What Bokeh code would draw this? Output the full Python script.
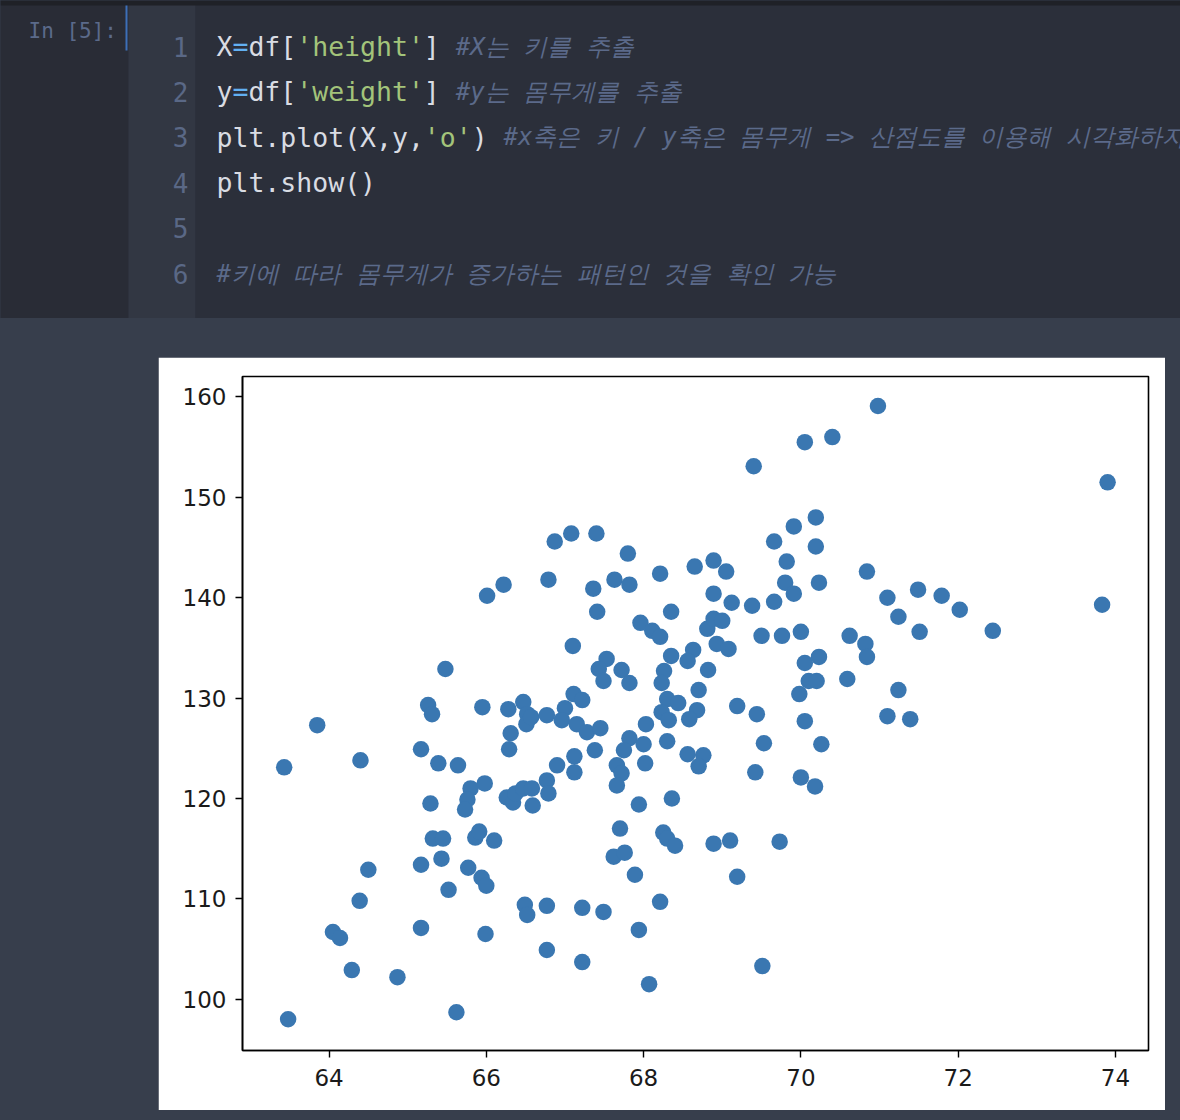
from bokeh.plotting import figure
from bokeh.models import Range1d, FixedTicker, ColumnDataSource
from bokeh.layouts import column
from bokeh.embed import file_html
from bokeh.resources import INLINE
from bokeh.core.properties import value

# ---------------- data (height in inches, weight in lb) ----------------
height = [63.43, 63.48, 63.85, 64.05, 64.14, 64.29, 64.39, 64.40, 64.50, 64.87,
          65.17, 65.17, 65.17, 65.26, 65.31, 65.29, 65.32, 65.45, 65.39, 65.43,
          65.48, 65.52, 65.62, 65.64, 65.77, 65.86, 65.91, 65.94, 66.00, 65.99,
          66.10, 65.80, 65.76, 65.73, 65.95, 65.98, 66.01, 66.22, 66.28, 66.31,
          66.29, 66.47, 66.52, 66.51, 66.57, 66.26, 66.34, 66.37, 66.47, 66.58,
          66.59, 66.77, 66.77, 66.79, 66.49, 66.52, 66.77, 66.77, 66.79, 66.87,
          67.08, 67.40, 67.80, 69.40, 70.05, 70.40, 70.98, 70.19, 69.91, 69.66,
          70.19, 69.82, 67.36, 67.63, 67.82, 68.21, 68.65, 68.89, 69.05, 68.89,
          69.12, 69.38, 69.66, 69.80, 69.91, 70.23, 67.41, 68.35, 70.84, 73.90,
          71.10, 71.49, 71.79, 72.02, 73.83, 71.24, 71.51, 72.44, 70.62, 70.82,
          70.84, 70.59, 71.24, 71.10, 71.39, 67.96, 68.11, 68.21, 68.81, 68.89,
          69.00, 68.93, 69.08, 69.50, 69.76, 70.00, 67.10, 67.53, 67.43, 67.49,
          67.72, 67.82, 68.35, 68.63, 68.56, 68.26, 68.23, 68.82, 68.70, 70.05,
          70.23, 70.10, 70.20, 69.98, 67.11, 67.22, 67.00, 66.96, 67.15, 67.28,
          67.45, 68.30, 68.44, 68.23, 68.32, 68.68, 68.58, 68.03, 69.19, 69.44,
          70.05, 67.38, 67.82, 67.75, 68.00, 68.02, 68.30, 68.56, 68.76, 68.70,
          69.53, 70.26, 67.12, 67.12, 66.90, 67.66, 67.72, 67.66, 69.42, 70.00,
          70.18, 68.36, 67.94, 67.70, 68.25, 68.30, 68.40, 68.89, 69.10, 69.73,
          67.62, 67.76, 67.89, 69.19, 67.22, 67.49, 68.21, 67.94, 67.22, 68.07,
          69.51]
weight = [123.1, 98.0, 127.3, 106.7, 106.1, 102.9, 109.8, 123.8, 112.9, 102.2,
          124.9, 113.4, 107.1, 129.3, 128.4, 119.5, 116.0, 116.0, 123.5, 114.0,
          132.9, 110.9, 98.7, 123.3, 113.1, 116.1, 116.7, 112.1, 111.3, 106.5,
          115.8, 121.0, 119.9, 118.9, 129.1, 121.5, 140.2, 141.3, 128.9, 126.5,
          124.9, 129.6, 128.4, 127.4, 128.1, 120.1, 119.6, 120.5, 121.0, 121.0,
          119.3, 128.3, 121.8, 120.5, 109.4, 108.4, 109.3, 104.9, 141.8, 145.6,
          146.4, 146.4, 144.4, 153.1, 155.5, 156.0, 159.1, 148.0, 147.1, 145.6,
          145.1, 143.6, 140.9, 141.8, 141.3, 142.4, 143.1, 143.7, 142.6, 140.4,
          139.5, 139.2, 139.6, 141.5, 140.4, 141.5, 138.6, 138.6, 142.6, 151.5,
          140.0, 140.8, 140.2, 138.8, 139.3, 138.1, 136.6, 136.7, 136.2, 135.4,
          134.1, 131.9, 130.8, 128.2, 127.9, 137.5, 136.7, 136.1, 136.9, 137.9,
          137.7, 135.4, 134.9, 136.2, 136.2, 136.6, 135.2, 133.9, 132.9, 131.7,
          132.8, 131.5, 134.2, 134.8, 133.7, 132.7, 131.5, 132.8, 130.8, 133.5,
          134.1, 131.7, 131.7, 130.4, 130.4, 129.8, 129.0, 127.8, 127.4, 126.6,
          127.0, 129.9, 129.5, 128.6, 127.8, 128.8, 127.9, 127.4, 129.2, 128.4,
          127.7, 124.8, 126.0, 124.8, 125.4, 123.5, 125.7, 124.4, 124.3, 123.2,
          125.5, 125.4, 124.2, 122.6, 123.3, 123.3, 122.5, 121.3, 122.6, 122.1,
          121.2, 120.0, 119.4, 117.0, 116.6, 116.0, 115.3, 115.5, 115.8, 115.7,
          114.2, 114.6, 112.4, 112.2, 109.1, 108.7, 109.7, 106.9, 103.7, 101.5,
          103.3]

x_ticks = [64, 66, 68, 70, 72, 74]
y_ticks = [100, 110, 120, 130, 140, 150, 160]

# ---------------- code cell text ----------------
code_lines = [
    [("X", "plain"), ("=", "op"), ("df[", "plain"), ("'height'", "str"), ("] ", "plain"),
     ("#X는 키를 추출", "comment")],
    [("y", "plain"), ("=", "op"), ("df[", "plain"), ("'weight'", "str"), ("] ", "plain"),
     ("#y는 몸무게를 추출", "comment")],
    [("plt.plot(X,y,", "plain"), ("'o'", "str"), (") ", "plain"),
     ("#x축은 키 / y축은 몸무게 => 산점도를 이용해 시각화하자", "comment")],
    [("plt.show()", "plain")],
    [],
    [("#키에 따라 몸무게가 증가하는 패턴인 것을 확인 가능", "comment")],
]
prompt_label = "In [5]:"

colors = {"plain": "#d9dce3", "op": "#62b0f2", "str": "#a3c47a", "comment": "#5b6a8a"}

W = 1180
code_h = 318

# ---------------- code cell figure ----------------
cf = figure(width=W, height=code_h, output_backend="svg", toolbar_location=None,
            x_axis_location=None, y_axis_location=None,
            min_border_top=0, min_border_bottom=0)

# scatter figure (created here so that frame alignment can be switched off for both)
p = figure(width=1007, height=753, output_backend="svg", toolbar_location=None,
           x_range=Range1d(62.90, 74.42), y_range=Range1d(94.89, 162.04),
           min_border_left=84, min_border_right=17, min_border_top=19, min_border_bottom=60,
           margin=(39, 15, 10, 158))

if "frame_align" in cf.properties():
    cf.frame_align = False
    p.frame_align = False
    frame_l, frame_r = 0, W
    cf.min_border_left = 0
    cf.min_border_right = 0
else:
    # column layouts share side borders with the scatter figure
    frame_l, frame_r = 84, W - 17
    cf.min_border_left = 84
    cf.min_border_right = 17

cf.x_range = Range1d(frame_l, frame_r)
cf.y_range = Range1d(code_h, 0)
cf.grid.visible = False
cf.outline_line_color = None
cf.background_fill_color = "#2b2f3a"
cf.border_fill_color = "#292c36"

cf.quad(left=[0], right=[128], top=[0], bottom=[320], fill_color="#292c36", line_color=None)
cf.quad(left=[128], right=[195], top=[0], bottom=[320], fill_color="#323743", line_color=None)
cf.quad(left=[195], right=[1200], top=[0], bottom=[320], fill_color="#2b2f3a", line_color=None)
cf.quad(left=[0], right=[1200], top=[0], bottom=[5], fill_color="#1f2127", line_color=None)
cf.segment(x0=[126], y0=[5], x1=[126], y1=[50], line_color="#3d6fb8", line_width=2)

cf.text(x=[28], y=[30], text=[prompt_label], text_font=value("DejaVu Sans Mono"),
        text_font_size="21px", text_color="#5b6a8a", text_baseline="middle")

line_y0 = 46
line_dy = 45.4
cw = 15.95
xs, ys, ts, cs = [], [], [], []
cx, cy, ct, cc = [], [], [], []
for i, toks in enumerate(code_lines):
    yy = line_y0 + i * line_dy
    col = 0
    for t, kind in toks:
        if kind == "comment":
            cx.append(216 + col * cw); cy.append(yy); ct.append(t); cc.append(colors[kind])
        else:
            xs.append(216 + col * cw); ys.append(yy); ts.append(t); cs.append(colors[kind])
        col += len(t)

cf.text(x=xs, y=ys, text=ts, text_color=cs, text_font=value("DejaVu Sans Mono"),
        text_font_size="26.5px", text_baseline="middle")
cf.text(x=cx, y=cy, text=ct, text_color=cc, text_font=value("DejaVu Sans Mono"),
        text_font_size="24px", text_font_style="italic", text_baseline="middle")

nums = [str(i + 1) for i in range(len(code_lines))]
cf.text(x=[188] * len(nums), y=[line_y0 + i * line_dy for i in range(len(nums))], text=nums,
        text_font=value("DejaVu Sans Mono"), text_font_size="26px", text_color="#5a6886",
        text_align="right", text_baseline="middle")

# ---------------- scatter (matplotlib-like) figure ----------------
p.grid.visible = False
p.background_fill_color = "white"
p.border_fill_color = "white"
p.outline_line_color = "black"
p.outline_line_width = 1.6

p.xaxis.ticker = FixedTicker(ticks=x_ticks)
p.yaxis.ticker = FixedTicker(ticks=y_ticks)
for ax in (p.xaxis, p.yaxis):
    ax.major_tick_out = 7
    ax.major_tick_in = 0
    ax.minor_tick_out = 0
    ax.minor_tick_in = 0
    ax.major_tick_line_color = "black"
    ax.major_tick_line_width = 1.4
    ax.axis_line_color = "black"
    ax.axis_line_width = 1.6
    ax.major_label_text_font = "DejaVu Sans"
    ax.major_label_text_font_size = "23px"
    ax.major_label_text_color = "#1a1a1a"
p.xaxis.major_label_standoff = 11
p.yaxis.major_label_standoff = 9

src = ColumnDataSource(data=dict(height=height, weight=weight))
p.scatter("height", "weight", source=src, size=16.5, fill_color="#3a77b1", line_color=None)

layout = column(cf, p, styles={"background-color": "#373e4c"}, spacing=0)

open("out.html", "w").write(file_html(layout, INLINE))
